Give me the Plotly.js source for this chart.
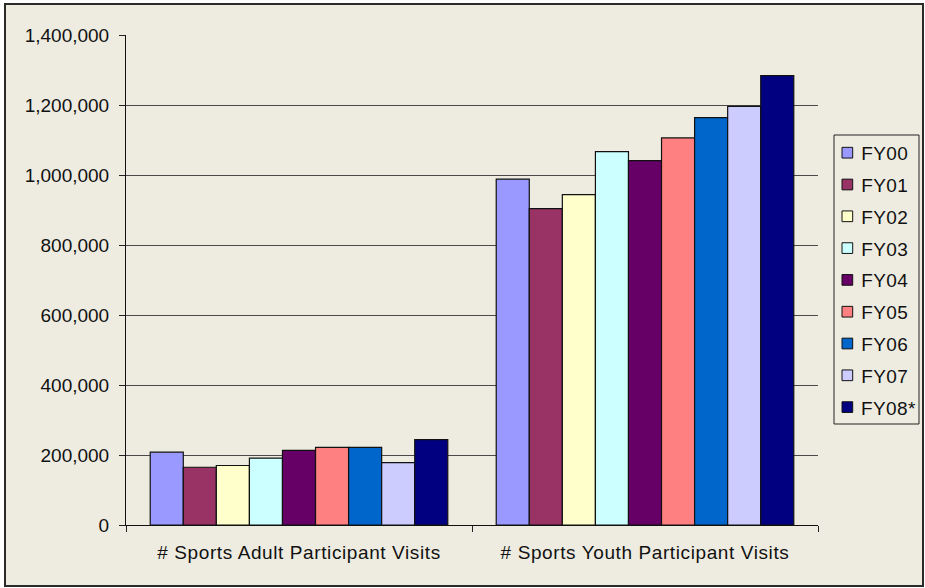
<!DOCTYPE html>
<html>
<head>
<meta charset="utf-8">
<script src="https://cdn.plot.ly/plotly-3.0.1.min.js"></script>
<style>
  html, body { margin: 0; padding: 0; background: #ffffff; }
  #frame {
    position: absolute; left: 4px; top: 3px;
    width: 916px; height: 580px;
    border: 2px solid #2a2a2a;
    background: #EEECE1;
  }
  #chart { width: 916px; height: 580px; }
  /* slightly looser spacing for the category labels */
  #chart .xtick text { letter-spacing: 0.6px; }
  #chart .annotation-text { letter-spacing: 0.4px; }
</style>
</head>
<body>
<div id="frame"><div id="chart"></div></div>
<script>
// Participant visit categories
const categories = ['# Sports Adult Participant Visits', '# Sports Youth Participant Visits'];

// Fiscal years shown in the legend
const years = ['FY00', 'FY01', 'FY02', 'FY03', 'FY04', 'FY05', 'FY06', 'FY07', 'FY08*'];

// Visits per fiscal year: [adult, youth]
const fy00 = [208000, 988000];
const fy01 = [165000, 904000];
const fy02 = [170000, 944000];
const fy03 = [191000, 1067000];
const fy04 = [213000, 1041000];
const fy05 = [222000, 1106000];
const fy06 = [222000, 1164000];
const fy07 = [178000, 1196000];
const fy08 = [244000, 1284000];

const seriesValues = [fy00, fy01, fy02, fy03, fy04, fy05, fy06, fy07, fy08];

const colors = ['#9999FF', '#993366', '#FFFFCC', '#CCFFFF', '#660066',
                '#FF8080', '#0066CC', '#CCCCFF', '#000080'];

const yTicks = [0, 200000, 400000, 600000, 800000, 1000000, 1200000, 1400000];

const traces = years.map((name, i) => ({
  type: 'bar',
  name: name,
  x: categories,
  y: seriesValues[i],
  marker: { color: colors[i], line: { color: '#111111', width: 1.2 } },
  hoverinfo: 'skip'
}));

const font = { family: 'Liberation Sans, Arial, sans-serif', size: 19, color: '#111111' };

// Figure / plot-area geometry (pixels inside the chart div)
const W = 916, H = 580;
const M = { l: 120, r: 104, t: 30, b: 60 };
const plotW = W - M.l - M.r;
const plotH = H - M.t - M.b;
// pixel -> paper coordinates, measured from the plot area's top-left corner
const px = v => v / plotW;
const py = v => 1 - v / plotH;

// Boxed legend to the right of the plot area
const legLeft = 708, legRight = 793, legTop = 100, legBottom = 389;
const rowTop = 117.7, rowStep = 31.8, sw = 10.7, swLeft = 716, textLeft = 734;

const shapes = [{
  type: 'rect', xref: 'paper', yref: 'paper',
  x0: px(legLeft), x1: px(legRight), y0: py(legBottom), y1: py(legTop),
  line: { color: '#222222', width: 1 }, fillcolor: 'rgba(0,0,0,0)'
}];
const annotations = [];
years.forEach((name, i) => {
  const cy = rowTop + rowStep * i;
  shapes.push({
    type: 'rect', xref: 'paper', yref: 'paper',
    x0: px(swLeft), x1: px(swLeft + sw),
    y0: py(cy + sw / 2), y1: py(cy - sw / 2),
    fillcolor: colors[i], line: { color: '#111111', width: 1 }
  });
  annotations.push({
    xref: 'paper', yref: 'paper',
    x: px(textLeft), y: py(cy + 1),
    xanchor: 'left', yanchor: 'middle',
    text: name, showarrow: false, font: font
  });
});

const layout = {
  width: W,
  height: H,
  margin: M,
  paper_bgcolor: 'rgba(0,0,0,0)',
  plot_bgcolor: 'rgba(0,0,0,0)',
  font: font,
  barmode: 'group',
  bargap: 0.14,
  bargroupgap: 0,
  showlegend: false,
  shapes: shapes,
  annotations: annotations,
  xaxis: {
    type: 'category',
    tickson: 'boundaries',
    ticks: 'outside',
    ticklen: 6,
    tickcolor: '#222222',
    showline: true,
    linecolor: '#111111',
    linewidth: 1,
    showgrid: false,
    ticklabelstandoff: 10,
    tickfont: font,
    fixedrange: true
  },
  yaxis: {
    range: [0, 1400000],
    tickvals: yTicks,
    tickformat: ',d',
    ticks: 'outside',
    ticklen: 6,
    tickcolor: '#222222',
    showline: true,
    linecolor: '#111111',
    linewidth: 1,
    showgrid: true,
    gridcolor: '#4a4a4a',
    gridwidth: 1,
    zeroline: false,
    ticklabelstandoff: 6,
    tickfont: font,
    fixedrange: true
  }
};

Plotly.newPlot('chart', traces, layout, { displayModeBar: false, staticPlot: true });
</script>
</body>
</html>
